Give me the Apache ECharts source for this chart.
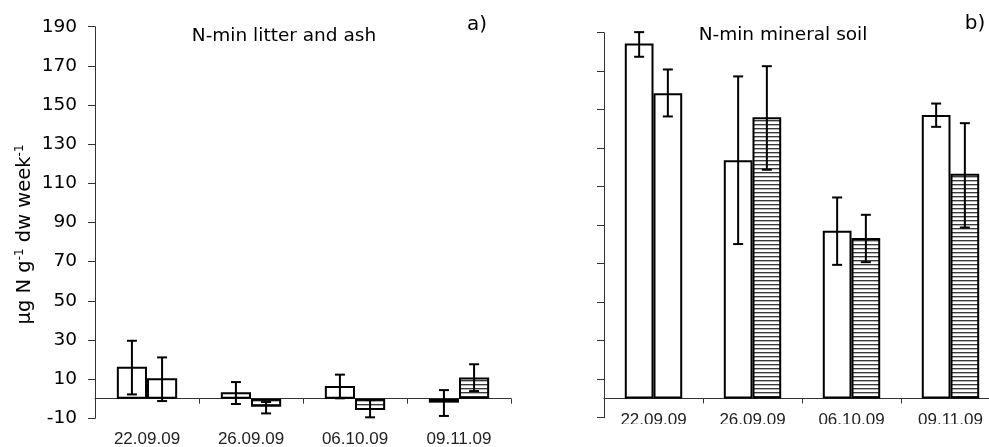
<!DOCTYPE html>
<html>
<head>
<meta charset="utf-8">
<script src="https://cdn.jsdelivr.net/npm/echarts@6/dist/echarts.min.js"></script>
<style>
  html, body { margin: 0; padding: 0; background: #fff; }
  #chart { width: 989px; height: 447px; }
</style>
</head>
<body>
<div id="chart"></div>
<script>
// Sampling dates
const dates = ['22.09.09', '26.09.09', '06.10.09', '09.11.09'];

// Panel a) N-min in litter and ash: means and error-bar limits
const litterOpen = [16.3, 3.3, 6.5, -2.0];
const litterOpenLow = [2.2, -2.7, 0.2, -8.8];
const litterOpenHigh = [29.6, 8.5, 12.3, 4.4];
const litterHatch = [10.4, -4.1, -5.8, 10.9];
const litterHatchLow = [-1.2, -7.5, -9.5, 3.9];
const litterHatchHigh = [21.1, -1.7, -0.7, 17.6];

// Panel b) N-min in mineral soil: means and error-bar limits
const soilOpen = [184.4, 123.8, 87.1, 147.3];
const soilOpenLow = [177.5, 80.2, 69.4, 141.1];
const soilOpenHigh = [190.3, 167.3, 104.4, 153.2];
const soilHatch = [158.6, 146.1, 83.3, 116.7];
const soilHatchLow = [146.5, 118.8, 70.8, 88.8];
const soilHatchHigh = [170.9, 172.6, 95.4, 143.0];

// The first date's second bar is plain, the others are striped
const hatchedFlags = [false, true, true, true];

// Y-axis scale and tick labels
const yMin = -10, yMax = 190, yStep = 20;

const BAR_FRAC = 0.29;
const FONT = "'DejaVu Sans', sans-serif";
const DATE_FONT = "'Liberation Sans', Arial, sans-serif";

// Horizontal stripe fill
function makeStripes() {
  const c = document.createElement('canvas');
  c.width = 4; c.height = 4;
  const g = c.getContext('2d');
  g.fillStyle = '#fff'; g.fillRect(0, 0, 4, 4);
  g.fillStyle = '#3a3a3a'; g.fillRect(0, 0, 4, 1);
  g.fillStyle = '#b5b5b5'; g.fillRect(0, 1, 4, 1);
  return c;
}
const stripes = { image: makeStripes(), repeat: 'repeat' };

function barData(vals, hatched) {
  return vals.map((v, i) => ({
    value: v,
    itemStyle: { color: hatched && hatchedFlags[i] ? stripes : '#fff' }
  }));
}

function errData(lo, hi) {
  return lo.map((l, i) => [i, l, hi[i]]);
}

// Whisker with caps, drawn over the centre of its bar
function errRender(side) {
  return function (params, api) {
    const i = api.value(0);
    const lo = api.coord([i, api.value(1)]);
    const hi = api.coord([i, api.value(2)]);
    const band = api.size([1, 0])[0];
    const x = lo[0] + side * band * BAR_FRAC / 2;
    const cap = 5;
    const st = { stroke: '#000', lineWidth: 2 };
    return {
      type: 'group',
      children: [
        { type: 'line', shape: { x1: x, y1: lo[1], x2: x, y2: hi[1] }, style: st },
        { type: 'line', shape: { x1: x - cap, y1: hi[1], x2: x + cap, y2: hi[1] }, style: st },
        { type: 'line', shape: { x1: x - cap, y1: lo[1], x2: x + cap, y2: lo[1] }, style: st }
      ]
    };
  };
}

// Date labels sit relative to the bottom edge of each grid
function xAxisFor(gridIndex, margin) {
  return {
    type: 'category', gridIndex, data: dates,
    axisLine: { onZero: true, lineStyle: { color: '#333', width: 1 } },
    axisTick: { show: true, length: 5, lineStyle: { color: '#333' } },
    axisLabel: {
      margin, interval: 0, hideOverlap: false,
      color: '#222', fontFamily: DATE_FONT, fontSize: 17, verticalAlign: 'top'
    },
    splitLine: { show: false }
  };
}

function yAxisFor(gridIndex, showLabels) {
  const ax = {
    type: 'value', gridIndex, min: yMin, max: yMax, interval: yStep,
    axisLine: { show: true, onZero: false, lineStyle: { color: '#333', width: 1 } },
    axisTick: { show: true, length: 7, lineStyle: { color: '#333' } },
    axisLabel: { show: showLabels, margin: 18, color: '#000', fontFamily: FONT, fontSize: 18.5 },
    splitLine: { show: false }
  };
  if (showLabels) {
    ax.name = '{a|µg N g}{s|-1}{a| dw week}{s|-1}';
    ax.nameLocation = 'middle';
    ax.nameRotate = 90;
    ax.nameGap = 59;
    ax.nameTextStyle = {
      padding: [0, 24, 0, 0],
      rich: {
        a: { fontFamily: FONT, fontSize: 19.5, color: '#000', lineHeight: 22 },
        s: { fontFamily: FONT, fontSize: 12, color: '#000', verticalAlign: 'top', lineHeight: 22, padding: [0, 0, 8, 0] }
      }
    };
  }
  return ax;
}

function barSeries(axisIdx, vals, hatched) {
  return {
    type: 'bar', xAxisIndex: axisIdx, yAxisIndex: axisIdx,
    data: barData(vals, hatched),
    barWidth: (BAR_FRAC * 100) + '%', barGap: '0%',
    itemStyle: { borderColor: '#000', borderWidth: 2 },
    emphasis: { disabled: true },
    z: 2
  };
}

function errSeries(axisIdx, lo, hi, side) {
  return {
    type: 'custom', xAxisIndex: axisIdx, yAxisIndex: axisIdx,
    data: errData(lo, hi), renderItem: errRender(side), z: 5, silent: true
  };
}

const chart = echarts.init(document.getElementById('chart'), null, { renderer: 'canvas' });

chart.setOption({
  animation: false,
  backgroundColor: '#fff',
  grid: [
    { left: 95, top: 26.7, width: 416, bottom: 28.7, containLabel: false, outerBoundsMode: 'none' },
    { left: 604, top: 32.7, width: 396, bottom: 29.3, containLabel: false, outerBoundsMode: 'none' }
  ],
  xAxis: [xAxisFor(0, 13), xAxisFor(1, -6)],
  yAxis: [yAxisFor(0, true), yAxisFor(1, false)],
  series: [
    barSeries(0, litterOpen, false),
    barSeries(0, litterHatch, true),
    errSeries(0, litterOpenLow, litterOpenHigh, -1),
    errSeries(0, litterHatchLow, litterHatchHigh, 1),
    barSeries(1, soilOpen, false),
    barSeries(1, soilHatch, true),
    errSeries(1, soilOpenLow, soilOpenHigh, -1),
    errSeries(1, soilHatchLow, soilHatchHigh, 1)
  ],
  graphic: [
    { type: 'text', x: 284, y: 27, z: 10,
      style: { text: 'N-min litter and ash', font: '18.5px ' + FONT, fill: '#000', textAlign: 'center' } },
    { type: 'text', x: 783, y: 26, z: 10,
      style: { text: 'N-min mineral soil', font: '18.5px ' + FONT, fill: '#000', textAlign: 'center' } },
    { type: 'text', x: 477, y: 15, z: 10,
      style: { text: 'a)', font: '20px ' + FONT, fill: '#000', textAlign: 'center' } },
    { type: 'text', x: 975, y: 14, z: 10,
      style: { text: 'b)', font: '20px ' + FONT, fill: '#000', textAlign: 'center' } },
    // white band trims the lower edge of panel b's date labels
    { type: 'rect', z: 20, silent: true,
      shape: { x: 600, y: 424, width: 389, height: 23 }, style: { fill: '#fff' } }
  ]
});
</script>
</body>
</html>
